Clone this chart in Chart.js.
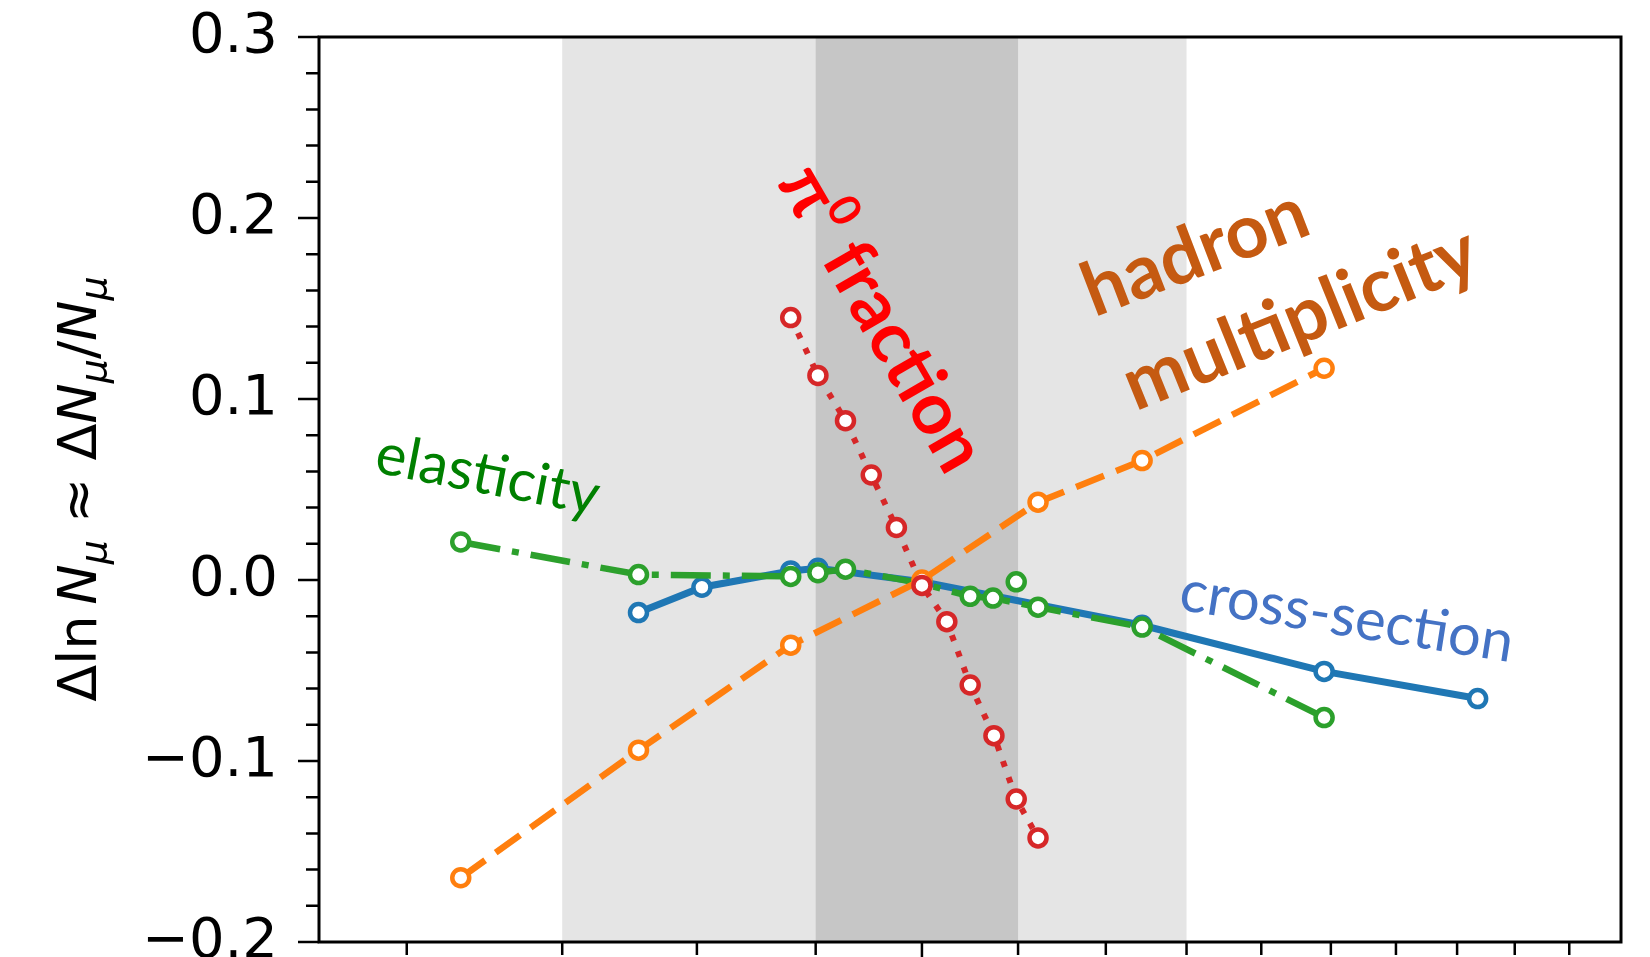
<!DOCTYPE html>
<html>
<head>
<meta charset="utf-8">
<script src="https://cdn.jsdelivr.net/npm/chart.js@4.4.0/dist/chart.umd.min.js"></script>
<style>
  html, body { margin: 0; padding: 0; background: #fff; overflow: hidden; }
  #wrap { width: 1650px; height: 1000px; }
</style>
</head>
<body>
<div id="wrap"><canvas id="chart" width="1650" height="1000"></canvas></div>
<script>
// axis ranges (x is logarithmic, cropped below the tick labels)
const xRange = [0.55, 2.0];
const yRange = [-0.2, 0.3];
const xMajorTicks = [1.0];
const xMinorTicks = [0.6, 0.7, 0.8, 0.9, 1.1, 1.2, 1.3, 1.4, 1.5, 1.6, 1.7, 1.8, 1.9];
const yMajorTicks = [-0.2, -0.1, 0.0, 0.1, 0.2, 0.3];
const yMinorTicks = [-0.18, -0.16, -0.14, -0.12, -0.08, -0.06, -0.04, -0.02,
                     0.02, 0.04, 0.06, 0.08, 0.12, 0.14, 0.16, 0.18, 0.22, 0.24, 0.26, 0.28];

// shaded ranges
const outerBand = [0.7, 1.3];
const innerBand = [0.9, 1.1];

// series
const crossX = [0.755, 0.804, 0.878, 0.902, 1.0, 1.244, 1.49, 1.735];
const crossY = [-0.018, -0.004, 0.005, 0.0065, -0.001, -0.025, -0.0505, -0.0655];

const elastX = [0.633, 0.755, 0.878, 0.902, 0.927, 1.0, 1.049, 1.073, 1.122, 1.244, 1.49];
const elastY = [0.021, 0.003, 0.002, 0.004, 0.006, -0.002, -0.009, -0.010, -0.015, -0.026, -0.076];
const elastExtraX = [1.098];
const elastExtraY = [-0.001];

const multX = [0.633, 0.755, 0.878, 1.0, 1.122, 1.244, 1.49];
const multY = [-0.1645, -0.094, -0.036, 0.0, 0.043, 0.066, 0.117];

const pi0X = [0.878, 0.902, 0.927, 0.951, 0.975, 1.0, 1.025, 1.049, 1.074, 1.098, 1.122];
const pi0Y = [0.145, 0.113, 0.088, 0.058, 0.029, -0.003, -0.023, -0.058, -0.086, -0.121, -0.1425];

function pts(xs, ys) {
    return xs.map((x, i) => ({ x: x, y: ys[i] }));
}

function series(xs, ys, color, dash, width, order) {
    return {
        data: pts(xs, ys),
        borderColor: color,
        borderWidth: width,
        borderDash: dash,
        borderCapStyle: 'butt',
        pointRadius: 8.5,
        pointBorderWidth: 4.5,
        pointBorderColor: color,
        pointBackgroundColor: '#ffffff',
        tension: 0,
        fill: false,
        order: order
    };
}

// grey bands behind the lines
const bandsPlugin = {
    id: 'bands',
    beforeDatasetsDraw(chart) {
        const { ctx, chartArea: a, scales: { x } } = chart;
        ctx.save();
        let l = x.getPixelForValue(outerBand[0]);
        let r = x.getPixelForValue(outerBand[1]);
        ctx.fillStyle = '#e5e5e5';
        ctx.fillRect(l, a.top, r - l, a.bottom - a.top);
        l = x.getPixelForValue(innerBand[0]);
        r = x.getPixelForValue(innerBand[1]);
        ctx.fillStyle = '#c6c6c6';
        ctx.fillRect(l, a.top, r - l, a.bottom - a.top);
        ctx.restore();
    }
};

// box and tick marks
const framePlugin = {
    id: 'frame',
    afterDatasetsDraw(chart) {
        const { ctx, chartArea: a, scales: { x, y } } = chart;
        ctx.save();
        ctx.strokeStyle = '#000';
        ctx.lineWidth = 3;
        ctx.strokeRect(a.left, a.top, a.right - a.left, a.bottom - a.top);
        ctx.lineWidth = 2.5;
        ctx.beginPath();
        xMajorTicks.forEach(v => {
            const px = x.getPixelForValue(v);
            ctx.moveTo(px, a.bottom);
            ctx.lineTo(px, a.bottom + 21);
        });
        xMinorTicks.forEach(v => {
            const px = x.getPixelForValue(v);
            ctx.moveTo(px, a.bottom);
            ctx.lineTo(px, a.bottom + 13);
        });
        yMajorTicks.forEach(v => {
            const py = y.getPixelForValue(v);
            ctx.moveTo(a.left, py);
            ctx.lineTo(a.left - 21, py);
        });
        yMinorTicks.forEach(v => {
            const py = y.getPixelForValue(v);
            ctx.moveTo(a.left, py);
            ctx.lineTo(a.left - 13, py);
        });
        ctx.stroke();
        ctx.restore();
    }
};

// draws a run of [text, font, shift] pieces centred on (cx, cy)
function drawRun(ctx, pieces, cx, cy, angle, color) {
    ctx.save();
    ctx.translate(cx, cy);
    ctx.rotate(angle);
    ctx.fillStyle = color;
    ctx.textBaseline = 'alphabetic';
    ctx.textAlign = 'left';
    let total = 0;
    pieces.forEach(p => { ctx.font = p[1]; total += ctx.measureText(p[0]).width; });
    let u = -total / 2;
    pieces.forEach(p => {
        ctx.font = p[1];
        ctx.fillText(p[0], u, p[2]);
        u += ctx.measureText(p[0]).width;
    });
    ctx.restore();
}

const textPlugin = {
    id: 'texts',
    afterDraw(chart) {
        const ctx = chart.ctx;
        const deg = Math.PI / 180;

        // y axis label
        const lf = '54px "DejaVu Sans"';
        const li = 'italic 54px "DejaVu Sans"';
        const ls = 'italic 38px "DejaVu Sans"';
        drawRun(ctx, [
            ['\u0394ln', lf, 0], ['\u2009', lf, 0], ['N', li, 0], ['\u03bc', ls, 10],
            [' \u2248 ', lf, 0], ['\u0394', lf, 0], ['N', li, 0], ['\u03bc', ls, 10],
            ['/', lf, 0], ['N', li, 0], ['\u03bc', ls, 10]
        ], 96, 489, -90 * deg, '#000');

        // series annotations
        drawRun(ctx, [['elasticity', '58px Lato', 20]], 488, 474, 11 * deg, '#008000');
        drawRun(ctx, [['cross-section', '58px Lato', 20]], 1347, 616, 9 * deg, '#4472c4');
        drawRun(ctx, [['\u03c0', 'bold 72px Lato', 24], ['0', 'bold 44px Lato', -6],
                      [' fraction', 'bold 72px Lato', 24]], 882, 318, 60 * deg, '#ff0000');
        drawRun(ctx, [['hadron', 'bold 75px Lato', 25]], 1195, 252, -21 * deg, '#c55a11');
        drawRun(ctx, [['multiplicity', 'bold 75px Lato', 25]], 1300, 318, -22 * deg, '#c55a11');
    }
};

const fmtY = v => {
    if (Math.abs(v) < 1e-9) return '0.0';
    return (v < 0 ? '\u2212' : '') + Math.abs(v).toFixed(1);
};

new Chart(document.getElementById('chart'), {
    type: 'line',
    data: {
        datasets: [
            series(pi0X, pi0Y, '#d62728', [6, 11], 6, 0),
            series(multX, multY, '#ff7f0e', [30, 13], 6.5, 1),
            series(elastX, elastY, '#2ca02c', [40, 12, 7, 12], 6.5, 2),
            Object.assign(series(elastExtraX, elastExtraY, '#2ca02c', [], 0, 2), { showLine: false }),
            series(crossX, crossY, '#1f77b4', [], 7, 3)
        ]
    },
    options: {
        responsive: false,
        devicePixelRatio: 1,
        animation: false,
        events: [],
        layout: { padding: { top: 37, right: 29, left: 0, bottom: 0 } },
        plugins: { legend: { display: false }, tooltip: { enabled: false } },
        scales: {
            x: {
                type: 'logarithmic',
                min: xRange[0],
                max: xRange[1],
                grid: { display: false },
                border: { display: false },
                ticks: { display: false },
                afterFit(scale) { scale.height = 58; }
            },
            y: {
                type: 'linear',
                min: yRange[0],
                max: yRange[1],
                // tick marks are drawn by the frame plugin; the length here only spaces the labels
                grid: { display: true, drawOnChartArea: false, drawTicks: true, tickLength: 41, tickWidth: 0, tickColor: 'rgba(0,0,0,0)' },
                border: { display: false },
                ticks: {
                    stepSize: 0.1,
                    padding: 0,
                    color: '#000',
                    font: { family: 'DejaVu Sans', size: 56 },
                    callback: fmtY
                },
                afterFit(scale) { scale.width = 319; }
            }
        }
    },
    plugins: [bandsPlugin, framePlugin, textPlugin]
});
</script>
</body>
</html>
